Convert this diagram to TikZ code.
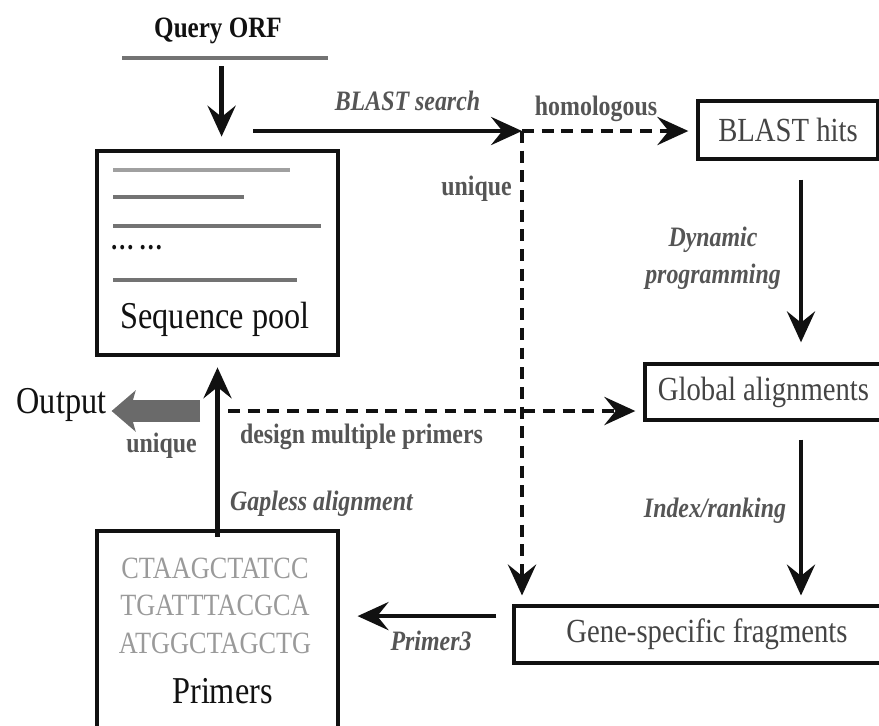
\documentclass[tikz,border=0pt]{standalone}
\usepackage{fontspec}
\setmainfont{Liberation Serif}[FakeStretch=0.85]
\usepackage{tikz}
\usetikzlibrary{arrows.meta,positioning,calc}
\definecolor{ink}{HTML}{111111}
\definecolor{labelgray}{HTML}{555555}
\definecolor{boxgray}{HTML}{444444}
\definecolor{seqgray}{HTML}{9A9A9A}
\definecolor{poolgray}{HTML}{737373}
\definecolor{poollight}{HTML}{A0A0A0}
\definecolor{outgray}{HTML}{6A6A6A}

\begin{document}
\begin{tikzpicture}[
  lbl/.style={font=\fontsize{20}{26}\selectfont\bfseries, text=labelgray, inner sep=0pt, anchor=base},
  itlbl/.style={lbl, font=\fontsize{20}{26}\selectfont\bfseries\itshape},
  box/.style={draw=ink, line width=2.4pt, inner sep=0pt, font=\fontsize{24}{28}\selectfont, text=boxgray},
  bigbox/.style={draw=ink, line width=3.4pt, inner sep=0pt},
  bigtext/.style={font=\fontsize{27}{30}\selectfont, text=ink, inner sep=0pt, anchor=base},
  seqtext/.style={font=\fontsize{22}{26}\selectfont, text=seqgray, inner sep=0pt, anchor=base},
  arrow/.style={-{Stealth[length=22pt,width=20pt,inset=8pt]}, line width=3pt, draw=ink},
  dasharrow/.style={arrow, line width=3.2pt, dash pattern=on 8.5pt off 5.5pt},
  poolline/.style={line width=3pt, draw=poolgray},
  outarrow/.style={-{Stealth[length=17pt,width=29pt,inset=4pt]}, line width=15pt, draw=outgray}
]
\useasboundingbox (0,0) rectangle (21.975,-18.125);

\node[lbl, text=ink, font=\fontsize{21}{26}\selectfont\bfseries] (qorf) at (5.45,-0.925) {Query ORF};
\coordinate (qa) at (3.05,-1.45);
\coordinate (qb) at (8.2,-1.45);
\coordinate (qmid) at (5.54,-1.45);
\draw[line width=3.5pt, draw=poolgray] (qa) -- (qb);

\node[bigbox, minimum width=6.025cm, minimum height=5.1cm] (seqpool) at (5.4375,-6.325) {};
\draw[poolline, draw=poollight] (2.825,-4.25) -- (7.25,-4.25);
\draw[poolline] (2.825,-4.925) -- (6.1,-4.925);
\draw[poolline] (2.825,-5.65) -- (8.025,-5.65);
\node[bigtext, anchor=west, font=\fontsize{20}{24}\selectfont\bfseries] (dots) at (2.75,-6.2) {…\,…};
\draw[poolline] (2.825,-7.0) -- (7.425,-7.0);
\node[bigtext] (pooltxt) at (5.375,-8.2) {Sequence pool};

\node[box, minimum width=4.5cm, minimum height=1.45cm] (blast) at (19.7,-3.25) {BLAST hits};
\node[box, minimum width=5.925cm, minimum height=1.4cm] (global) at (19.0875,-9.8) {Global alignments};
\node[box, minimum width=9.65cm, minimum height=1.425cm] (gene) at (17.675,-15.8625) {Gene-specific fragments};

\node[bigbox, minimum width=6.025cm, minimum height=5.125cm] (primers) at (5.4375,-15.8375) {};
\foreach \s [count=\i] in {CTAAGCTATCC,TGATTTACGCA,ATGGCTAGCTG}
  \node[seqtext] (seq\i) at (5.375,{-14.45-0.9375*(\i-1)}) {\s};
\node[bigtext] (primtxt) at (5.5625,-17.575) {Primers};

\node[bigtext] (output) at (1.5375,-10.325) {Output};

\coordinate (bsrc) at (6.325,-3.275);
\coordinate (split) at (13.05,-3.275);
\coordinate (col) at (20.025,0);
\coordinate (dmp) at (5.7,-10.275);
\coordinate (outsrc) at (5.0,-10.275);

\draw[arrow, shorten <=0.2cm, shorten >=0.3cm] (qmid) -- (qmid |- seqpool.north);
\draw[arrow] (bsrc) -- (split);
\draw[dasharrow, shorten >=0.2cm] (split) -- (blast.west |- split);
\draw[dasharrow, shorten >=0.22cm] (split) -- (split |- gene.north);
\draw[arrow, shorten <=0.475cm, shorten >=0.5cm] (blast.south -| col) -- (global.north -| col);
\draw[arrow, shorten <=0.45cm, shorten >=0.22cm] (global.south -| col) -- (gene.north -| col);
\draw[dasharrow, shorten >=0.2cm] (dmp) -- (dmp -| global.west);
\draw[outarrow, shorten >=0.125cm] (outsrc) -- (outsrc -| output.east);
\draw[arrow, shorten <=-0.2cm, shorten >=0.25cm] (primers.north) -- (seqpool.south);
\draw[arrow, shorten <=0.4cm, shorten >=0.43cm] ([yshift=0.46cm]gene.west) -- ([yshift=0.46cm]gene.west -| primers.east);

\node[itlbl] (bsearch) at (10.1875,-2.75) {BLAST search};
\node[lbl] (homol) at (14.9,-2.875) {homologous};
\node[lbl, anchor=base east] (uniq) at (12.8,-4.875) {unique};
\node[itlbl, align=center, anchor=center] (dynlbl) at (17.825,-6.45) {Dynamic\\programming};
\node[lbl] (dmplbl) at (9.0375,-11.075) {design multiple primers};
\node[lbl] (uniqout) at (4.0375,-11.3) {unique};
\node[itlbl] (gapless) at (8.0375,-12.75) {Gapless alignment};
\node[itlbl] (index) at (17.875,-12.925) {Index/ranking};
\node[itlbl] (p3lbl) at (10.775,-16.25) {Primer3};

\end{tikzpicture}
\end{document}
